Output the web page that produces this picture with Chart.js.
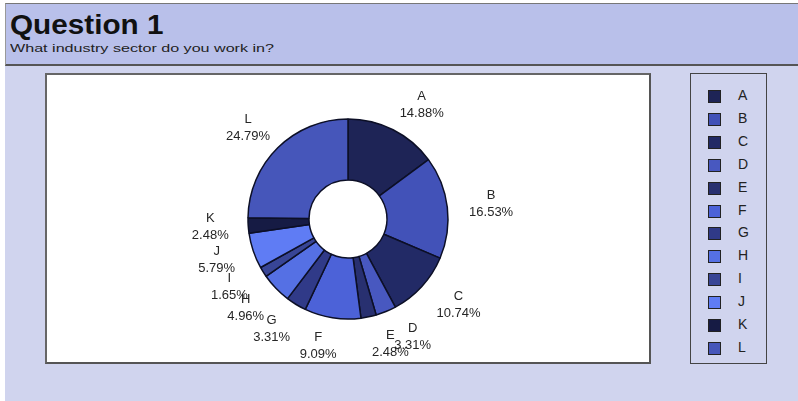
<!DOCTYPE html>
<html><head><meta charset="utf-8">
<script src="https://cdn.jsdelivr.net/npm/chart.js@4.4.0/dist/chart.umd.min.js"></script>
<style>
html,body{margin:0;padding:0;}
body{width:798px;height:401px;background:#fff;position:relative;overflow:hidden;font-family:"Liberation Sans",Arial,sans-serif;}
#bg{position:absolute;left:5px;top:3px;width:793px;height:398px;background:#d0d4ee;}
#hdr{position:absolute;left:5px;top:3px;width:793px;height:60px;background:#b9c0ea;border-top:1px solid #777;border-left:1px solid #999;border-bottom:2px solid #555;box-sizing:content-box;}
#t1{position:absolute;left:4px;top:6px;font-size:27px;font-weight:bold;color:#111;transform:scaleX(1.1);transform-origin:0 0;white-space:nowrap;}
#t2{position:absolute;left:4px;top:38px;font-size:11.5px;color:#222;transform:scaleX(1.4);transform-origin:0 0;white-space:nowrap;}
#plot{position:absolute;left:45px;top:73px;width:602px;height:287px;background:#fff;border:2px solid #555;border-left-color:#666;border-top-color:#666;}
#cv{position:absolute;left:0;top:1px;}
#leg{position:absolute;left:690px;top:73px;width:77px;height:291px;border:1.5px solid #444;box-sizing:border-box;}
.li{position:absolute;left:17px;height:14px;font-size:14px;color:#222;}
.sw{position:absolute;left:0;top:1px;width:11px;height:11px;border:1px solid #222;}
.lt{position:absolute;left:30px;top:-2px;}
</style></head>
<body>
<div id="bg"></div>
<div id="hdr"><div id="t1">Question 1</div><div id="t2">What industry sector do you work in?</div></div>
<div id="plot"><canvas id="cv" width="602" height="286"></canvas></div>
<div id="leg"></div>
<script>
const categories = ["A","B","C","D","E","F","G","H","I","J","K","L"];
const percentages = [14.88,16.53,10.74,3.31,2.48,9.09,3.31,4.96,1.65,5.79,2.48,24.79];
const sliceColors = ["#1e2456","#4252b8","#222a66","#4858c0","#283070","#4c62d8","#303a88","#5570e4","#384596","#5f7cf4","#161b44","#4656ba"];

// legend (HTML, built from arrays)
const leg = document.getElementById('leg');
categories.forEach((c,i)=>{
  const d=document.createElement('div');
  d.className='li';
  d.style.top=(15+i*22.9)+'px';
  d.innerHTML='<div class="sw" style="background:'+sliceColors[i]+'"></div><div class="lt">'+c+'</div>';
  leg.appendChild(d);
});

const outerLabels = {
  id:'outerLabels',
  afterDatasetsDraw(chart){
    const ctx=chart.ctx;
    const meta=chart.getDatasetMeta(0);
    ctx.save();
    ctx.font='13px "Liberation Sans", Arial, sans-serif';
    ctx.fillStyle='#262626';
    ctx.textAlign='center';
    ctx.textBaseline='middle';
    meta.data.forEach((arc,i)=>{
      const p=arc.getProps(['x','y','startAngle','endAngle','outerRadius'],true);
      const a=(p.startAngle+p.endAngle)/2;
      const r=p.outerRadius+28;
      const c=Math.cos(a);
      const x=p.x+c*r+(c>=0?16:-10);
      const y=p.y+Math.sin(a)*r;
      ctx.fillText(categories[i],x,y-8.5);
      ctx.fillText(percentages[i].toFixed(2)+'%',x,y+8.5);
    });
    ctx.restore();
  }
};

new Chart(document.getElementById('cv'),{
  type:'doughnut',
  data:{labels:categories,datasets:[{data:percentages,backgroundColor:sliceColors,borderColor:'#0c0f26',borderWidth:1.5,radius:100,cutout:'39%'}]},
  options:{
    responsive:false,animation:false,
    plugins:{legend:{display:false},tooltip:{enabled:false}},
    layout:{padding:0}
  },
  plugins:[outerLabels]
});
</script>
</body></html>
